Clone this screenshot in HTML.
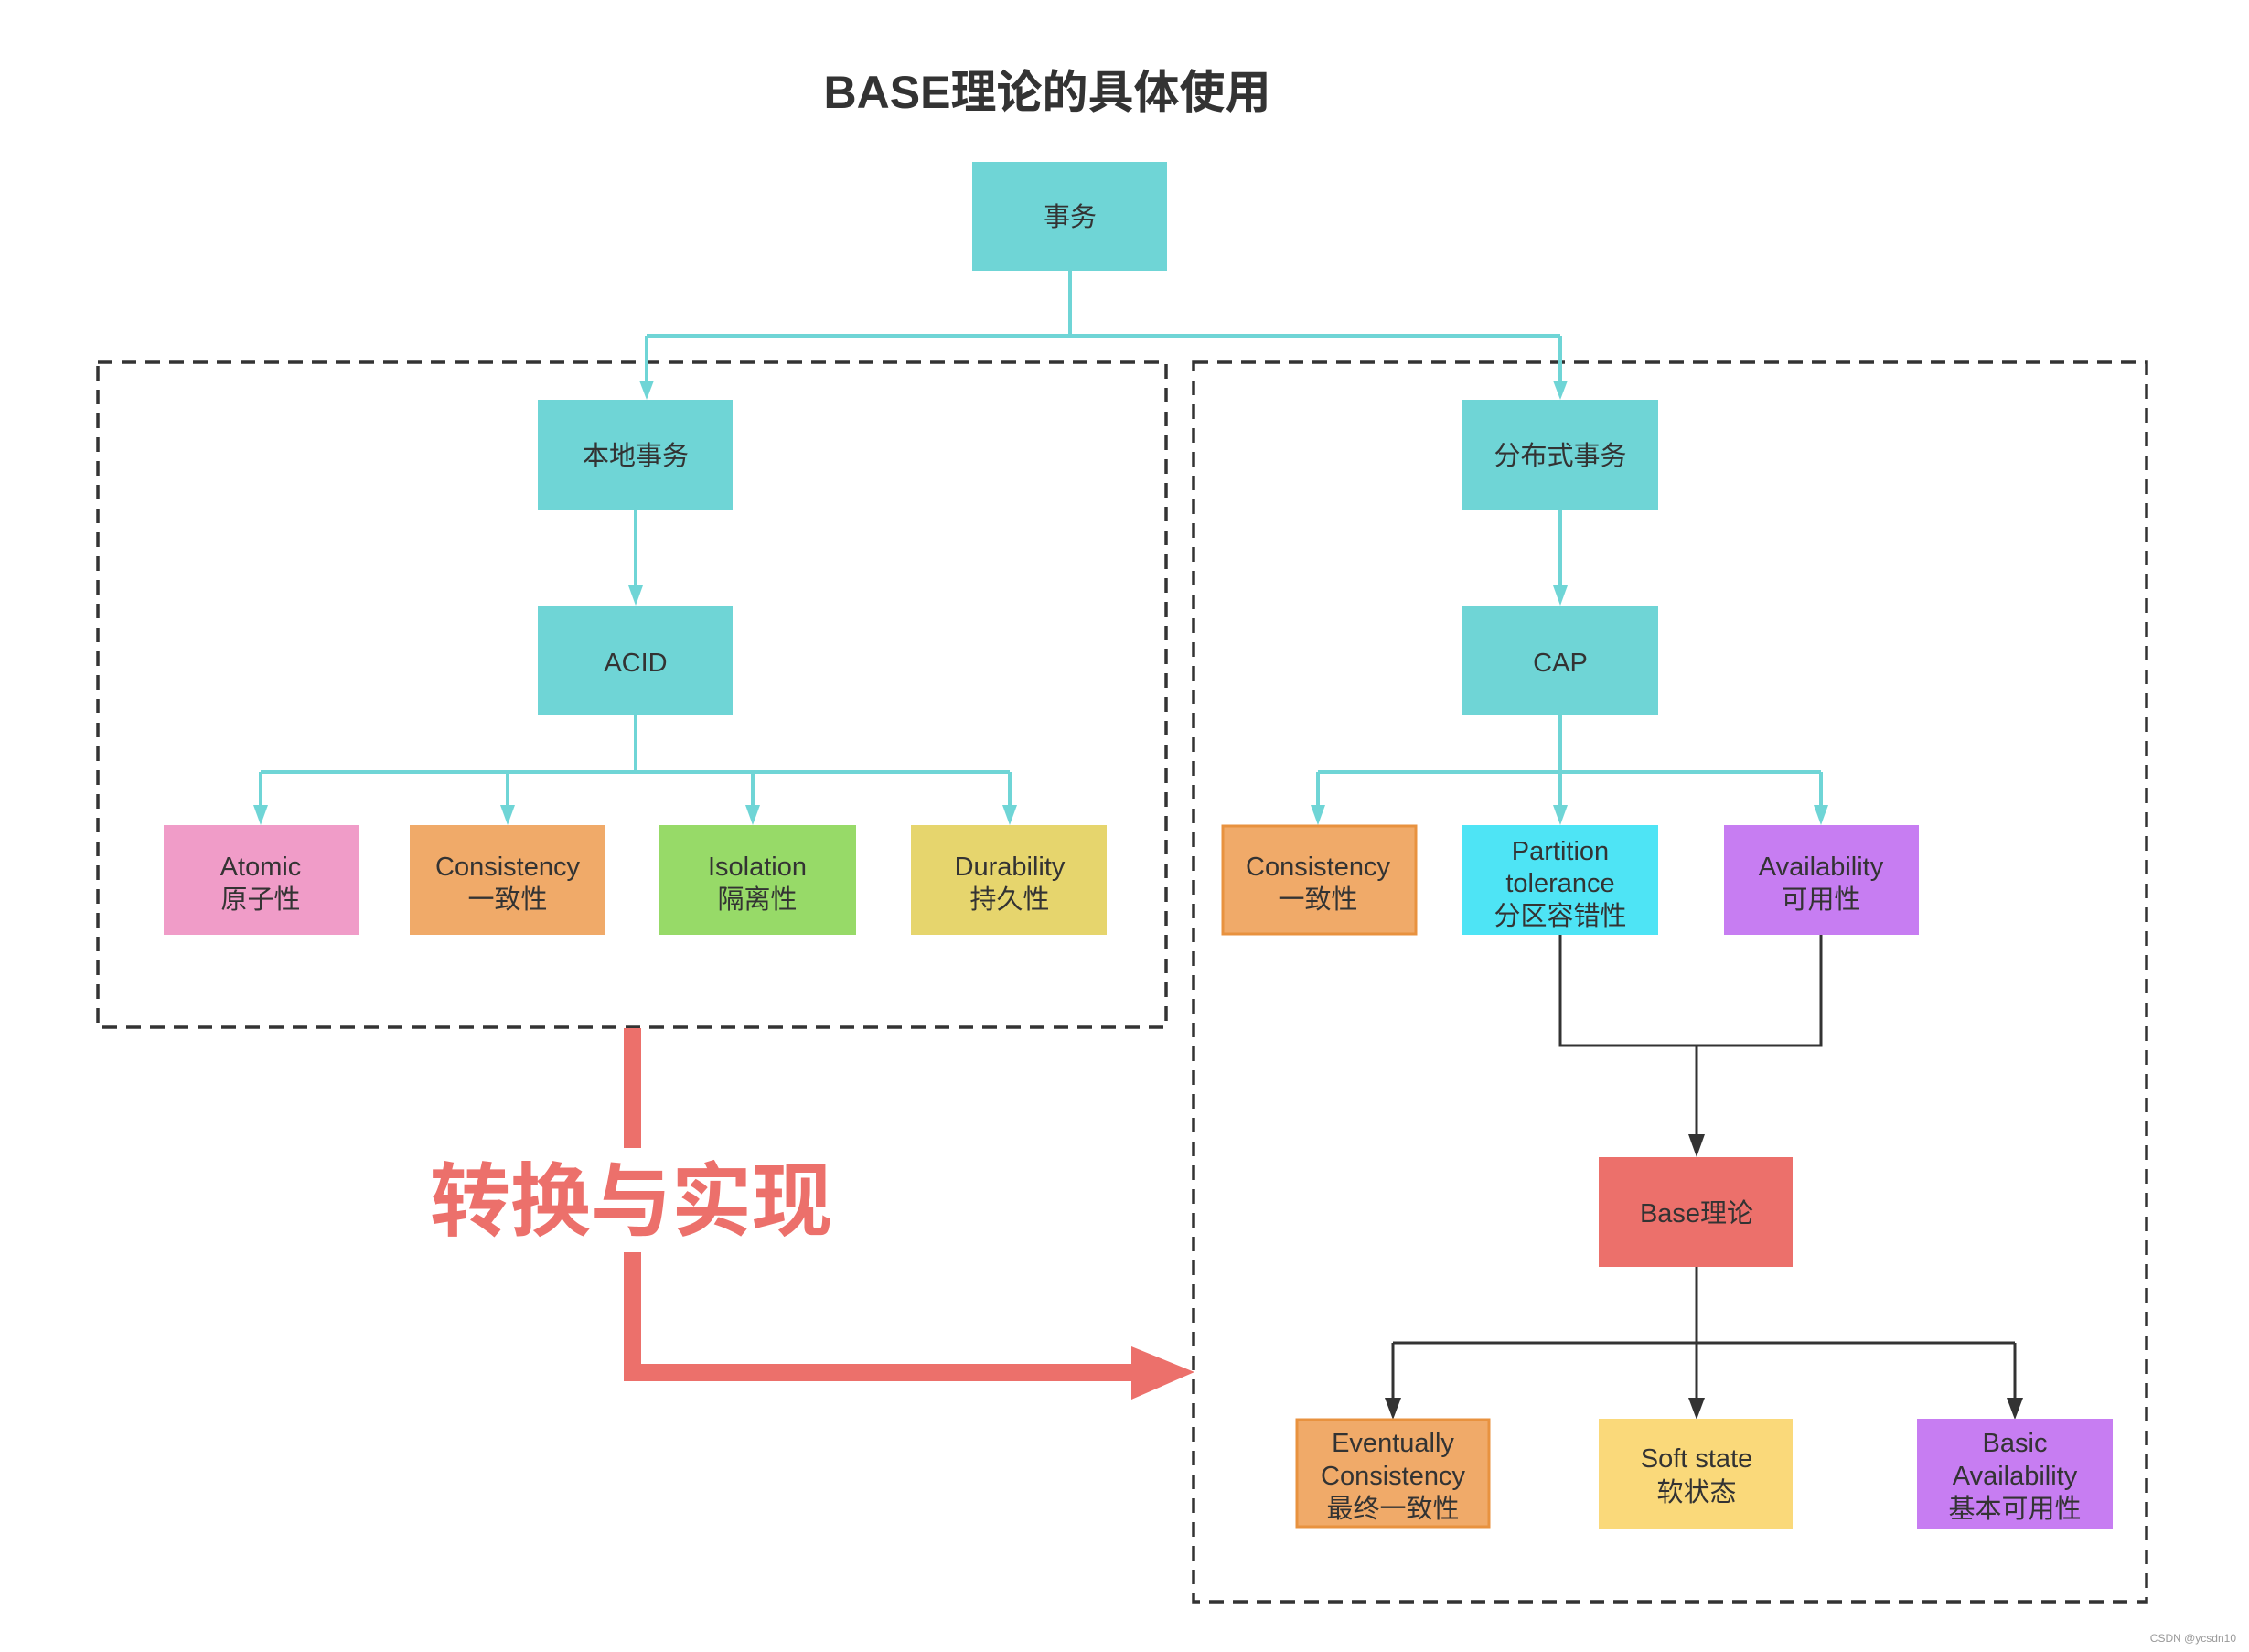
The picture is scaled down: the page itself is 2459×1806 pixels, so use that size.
<!DOCTYPE html>
<html><head><meta charset="utf-8"><style>
html,body{margin:0;padding:0;background:#fff;}
svg{display:block;}
text{font-family:"Liberation Sans","Noto Sans CJK SC",sans-serif;fill:#333;}
</style></head><body>
<svg width="2459" height="1806" viewBox="0 0 2459 1806" xmlns="http://www.w3.org/2000/svg">
<rect width="2459" height="1806" fill="#fff"/>
<text x="1145" y="118" font-size="50" font-weight="bold" text-anchor="middle" fill="#333">BASE理论的具体使用</text>

<rect x="107" y="396" width="1168" height="727" fill="none" stroke="#333" stroke-width="3.5" stroke-dasharray="16,10"/>
<rect x="1305" y="396" width="1042" height="1355" fill="none" stroke="#333" stroke-width="3.5" stroke-dasharray="16,10"/>

<g stroke="#6fd5d6" stroke-width="4" fill="none">
<path d="M1170 296 V367 M707 367 H1706 M707 367 V420 M1706 367 V420"/>
<path d="M695 557 V646 M1706 557 V646"/>
<path d="M695 782 V844 M285 844 H1104 M285 844 V886 M555 844 V886 M823 844 V886 M1104 844 V886"/>
<path d="M1706 782 V844 M1441 844 H1991 M1441 844 V886 M1706 844 V886 M1991 844 V886"/>
</g>
<g fill="#6fd5d6">
<polygon points="699,416 715,416 707,437"/>
<polygon points="1698,416 1714,416 1706,437"/>
<polygon points="687,640 703,640 695,662"/>
<polygon points="1698,640 1714,640 1706,662"/>
<polygon points="277,880 293,880 285,902"/>
<polygon points="547,880 563,880 555,902"/>
<polygon points="815,880 831,880 823,902"/>
<polygon points="1096,880 1112,880 1104,902"/>
<polygon points="1433,880 1449,880 1441,902"/>
<polygon points="1698,880 1714,880 1706,902"/>
<polygon points="1983,880 1999,880 1991,902"/>
</g>

<g stroke="#333" stroke-width="3" fill="none">
<path d="M1706 1022 V1143 H1991 V1022 M1855 1143 V1246"/>
<path d="M1855 1385 V1468 M1523 1468 H2203 M1523 1468 V1534 M1855 1468 V1534 M2203 1468 V1534"/>
</g>
<g fill="#333">
<polygon points="1846,1240 1864,1240 1855,1265"/>
<polygon points="1514,1528 1532,1528 1523,1552"/>
<polygon points="1846,1528 1864,1528 1855,1552"/>
<polygon points="2194,1528 2212,1528 2203,1552"/>
</g>

<g font-size="29" text-anchor="middle">
<rect x="1063" y="177" width="213" height="119" fill="#6fd5d6"/><text x="1170" y="247">事务</text>
<rect x="588" y="437" width="213" height="120" fill="#6fd5d6"/><text x="695" y="508">本地事务</text>
<rect x="588" y="662" width="213" height="120" fill="#6fd5d6"/><text x="695" y="734">ACID</text>
<rect x="1599" y="437" width="214" height="120" fill="#6fd5d6"/><text x="1706" y="508">分布式事务</text>
<rect x="1599" y="662" width="214" height="120" fill="#6fd5d6"/><text x="1706" y="734">CAP</text>

<rect x="179" y="902" width="213" height="120" fill="#f09cc8"/><text x="285" y="957">Atomic</text><text x="285" y="993">原子性</text>
<rect x="448" y="902" width="214" height="120" fill="#f0aa69"/><text x="555" y="957">Consistency</text><text x="555" y="993">一致性</text>
<rect x="721" y="902" width="215" height="120" fill="#97da68"/><text x="828" y="957">Isolation</text><text x="828" y="993">隔离性</text>
<rect x="996" y="902" width="214" height="120" fill="#e6d56d"/><text x="1104" y="957">Durability</text><text x="1104" y="993">持久性</text>

<rect x="1337" y="903" width="211" height="118" fill="#f0aa69" stroke="#e8923f" stroke-width="3"/><text x="1441" y="957">Consistency</text><text x="1441" y="993">一致性</text>
<rect x="1599" y="902" width="214" height="120" fill="#4ee4f5"/><text x="1706" y="940">Partition</text><text x="1706" y="975">tolerance</text><text x="1706" y="1011">分区容错性</text>
<rect x="1885" y="902" width="213" height="120" fill="#c77df2"/><text x="1991" y="957">Availability</text><text x="1991" y="993">可用性</text>

<rect x="1748" y="1265" width="212" height="120" fill="#ec706b"/><text x="1855" y="1336">Base理论</text>

<rect x="1418" y="1552" width="210" height="117" fill="#f0aa69" stroke="#e8923f" stroke-width="3"/><text x="1523" y="1587">Eventually</text><text x="1523" y="1623">Consistency</text><text x="1523" y="1659">最终一致性</text>
<rect x="1748" y="1551" width="212" height="120" fill="#fad97a"/><text x="1855" y="1604">Soft state</text><text x="1855" y="1641">软状态</text>
<rect x="2096" y="1551" width="214" height="120" fill="#c77df2"/><text x="2203" y="1587">Basic</text><text x="2203" y="1623">Availability</text><text x="2203" y="1659">基本可用性</text>
</g>

<g fill="#ec706b">
<rect x="682" y="1124" width="19" height="131"/>
<rect x="682" y="1369" width="19" height="141"/>
<rect x="682" y="1491" width="560" height="19"/>
<polygon points="1237,1472 1306,1500 1237,1530"/>
</g>
<text x="690" y="1344" font-size="88" font-weight="bold" text-anchor="middle" style="fill:#ec706b">转换与实现</text>

<text x="2445" y="1795" font-size="12" text-anchor="end" style="fill:#999">CSDN @ycsdn10</text>
</svg>
</body></html>
